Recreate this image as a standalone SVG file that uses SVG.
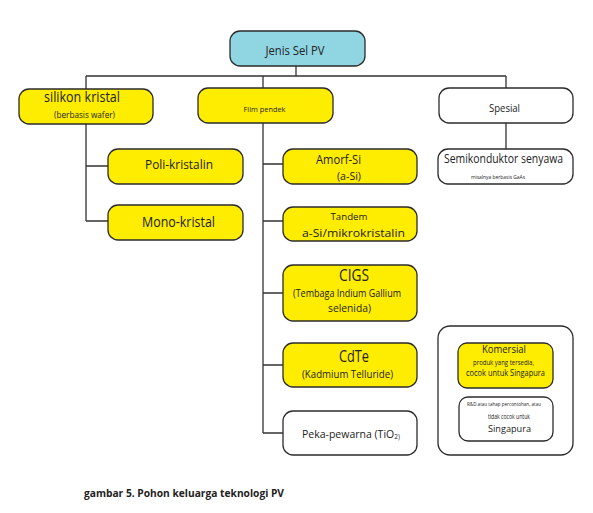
<svg xmlns="http://www.w3.org/2000/svg" width="593" height="513" viewBox="0 0 593 513">
<style>
.b{stroke:#2b2b2b;stroke-width:1.3}
.y{fill:#ffed00}
.w{fill:#ffffff}
.c{fill:#8fd5e2}
.t{font-family:"Open Sans","Noto Sans","DejaVu Sans",sans-serif;fill:#222;text-anchor:middle}
.l{fill:none;stroke:#333;stroke-width:1.3}
</style>
<rect width="593" height="513" fill="#ffffff"/>
<g id="connectors" class="l">
<path d="M296,66V76M86,76H506M86,76V89M263,76V88M506,76V88"/>
<path d="M86,124V221M86,166H108M86,221H108"/>
<path d="M263,123V433M263,164H283M263,221H283M263,293H283M263,365H283M263,433H283"/>
<path d="M506,123V149"/>
</g>
<g id="root"><rect class="b c" x="230" y="31" width="135" height="35" rx="10"/>
<text class="t" x="295" y="55" font-size="12" textLength="59" lengthAdjust="spacingAndGlyphs">Jenis Sel PV</text></g>
<g id="silikon"><rect class="b y" x="19" y="89" width="134" height="35" rx="10"/>
<text class="t" x="82" y="102" font-size="14" textLength="76" lengthAdjust="spacingAndGlyphs">silikon kristal</text>
<text class="t" x="84.5" y="118" font-size="8.8" textLength="61" lengthAdjust="spacingAndGlyphs">(berbasis wafer)</text></g>
<g id="film"><rect class="b y" x="198" y="88" width="135" height="35" rx="10"/>
<text class="t" x="264.5" y="112" font-size="8" textLength="42" lengthAdjust="spacingAndGlyphs">Film pendek</text></g>
<g id="spesial"><rect class="b w" x="439" y="88" width="134" height="35" rx="10"/>
<text class="t" x="504.5" y="112" font-size="10.5" textLength="31" lengthAdjust="spacingAndGlyphs">Spesial</text></g>
<g id="semi"><rect class="b w" x="438" y="149" width="135" height="35" rx="10"/>
<text class="t" x="503.5" y="163" font-size="11.8" textLength="119" lengthAdjust="spacingAndGlyphs">Semikonduktor senyawa</text>
<text class="t" x="498" y="179" font-size="5.5" textLength="54" lengthAdjust="spacingAndGlyphs">misalnya berbasis GaAs</text></g>
<g id="poli"><rect class="b y" x="108" y="149" width="135" height="35" rx="10"/>
<text class="t" x="179" y="169" font-size="13" textLength="68" lengthAdjust="spacingAndGlyphs">Poli-kristalin</text></g>
<g id="mono"><rect class="b y" x="108" y="205" width="135" height="35" rx="10"/>
<text class="t" x="178.5" y="227" font-size="14" textLength="73" lengthAdjust="spacingAndGlyphs">Mono-kristal</text></g>
<g id="amorf"><rect class="b y" x="283" y="149" width="134" height="35" rx="10"/>
<text class="t" x="338.5" y="164" font-size="13" textLength="45" lengthAdjust="spacingAndGlyphs">Amorf-Si</text>
<text class="t" x="349" y="180" font-size="10" textLength="24" lengthAdjust="spacingAndGlyphs">(a-Si)</text></g>
<g id="tandem"><rect class="b y" x="283" y="207" width="134" height="34" rx="10"/>
<text class="t" x="349" y="220" font-size="9.5" textLength="37" lengthAdjust="spacingAndGlyphs">Tandem</text>
<text class="t" x="353.5" y="236.5" font-size="11.5" textLength="103" lengthAdjust="spacingAndGlyphs">a-Si/mikrokristalin</text></g>
<g id="cigs"><rect class="b y" x="283" y="265" width="134" height="56" rx="10"/>
<text class="t" x="354" y="281" font-size="16" textLength="30" lengthAdjust="spacingAndGlyphs">CIGS</text>
<text class="t" x="347" y="297" font-size="10.8" textLength="108" lengthAdjust="spacingAndGlyphs">(Tembaga Indium Gallium</text>
<text class="t" x="349.5" y="312" font-size="10.8" textLength="43" lengthAdjust="spacingAndGlyphs">selenida)</text></g>
<g id="cdte"><rect class="b y" x="283" y="343" width="134" height="44" rx="10"/>
<text class="t" x="354" y="362" font-size="16" textLength="30" lengthAdjust="spacingAndGlyphs">CdTe</text>
<text class="t" x="347.5" y="378" font-size="11" textLength="91" lengthAdjust="spacingAndGlyphs">(Kadmium Telluride)</text></g>
<g id="peka"><rect class="b w" x="283" y="411" width="134" height="44" rx="10"/>
<text class="t" x="302" y="438" font-size="10.5" style="text-anchor:start">Peka-pewarna (TiO<tspan font-size="6.5" dy="1">2)</tspan></text></g>
<g id="legend"><rect class="b w" x="438" y="326" width="135" height="129" rx="12"/></g>
<g id="komersial"><rect class="b y" x="458" y="343" width="95" height="45" rx="9"/>
<text class="t" x="504" y="353" font-size="11.5" textLength="44" lengthAdjust="spacingAndGlyphs">Komersial</text>
<text class="t" x="503.5" y="365" font-size="7" textLength="61" lengthAdjust="spacingAndGlyphs">produk yang tersedia,</text>
<text class="t" x="505.5" y="376" font-size="8.8" textLength="79" lengthAdjust="spacingAndGlyphs">cocok untuk Singapura</text></g>
<g id="rnd"><rect class="b w" x="459" y="397" width="94" height="44" rx="9"/>
<text class="t" x="504" y="406" font-size="5" textLength="74" lengthAdjust="spacingAndGlyphs">R&amp;D atau tahap percontohan, atau</text>
<text class="t" x="509" y="419" font-size="7" textLength="42" lengthAdjust="spacingAndGlyphs">tidak cocok untuk</text>
<text class="t" x="509.5" y="432" font-size="9.5" textLength="43" lengthAdjust="spacingAndGlyphs">Singapura</text></g>
<text class="t" x="84" y="497" font-size="10.5" font-weight="bold" style="text-anchor:start" textLength="200" lengthAdjust="spacingAndGlyphs">gambar 5. Pohon keluarga teknologi PV</text>
</svg>
